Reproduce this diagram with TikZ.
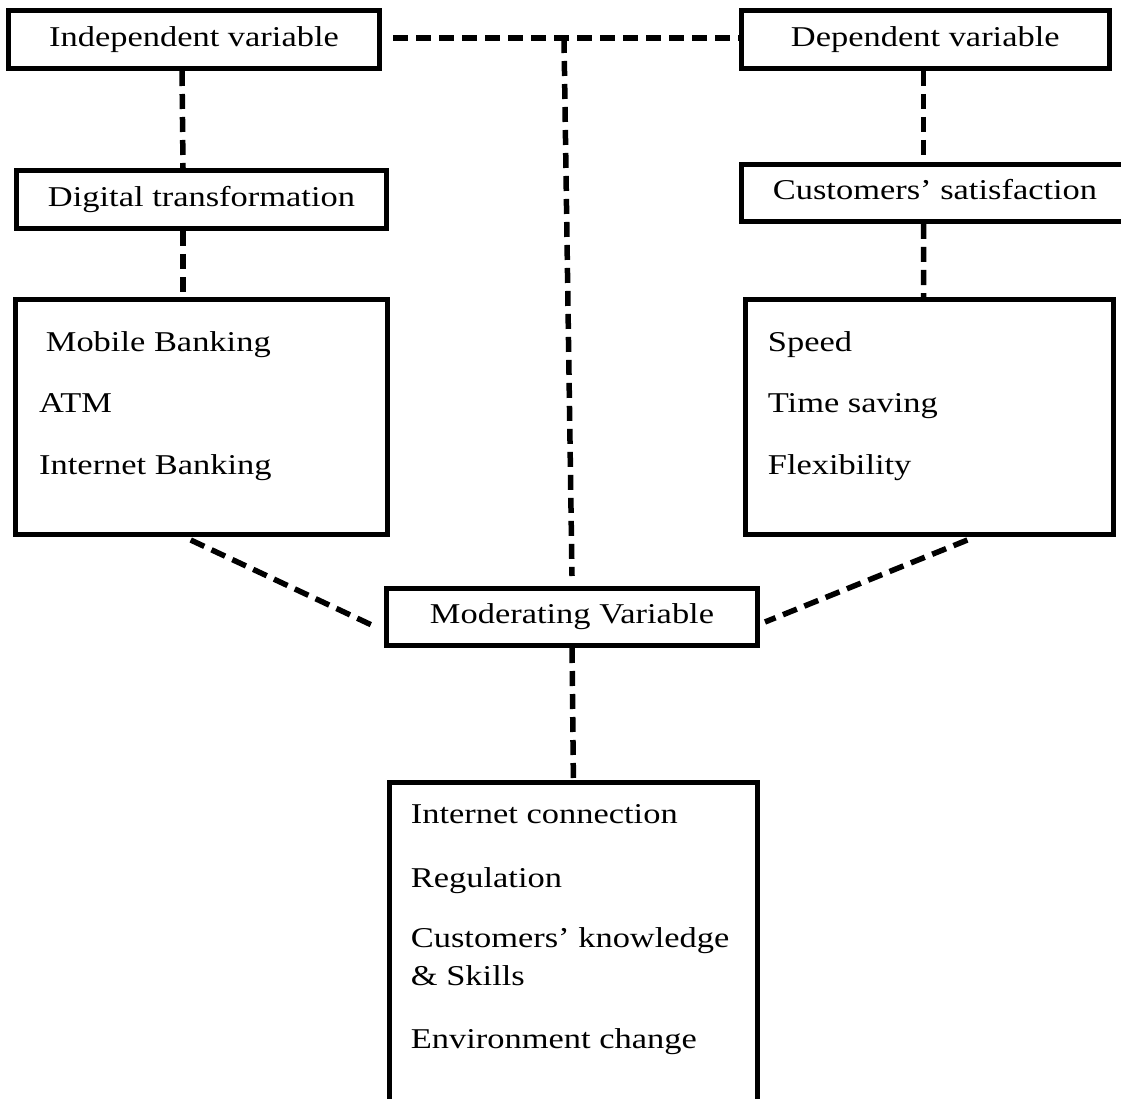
\documentclass[tikz,border=0pt]{standalone}
\usepackage{fontspec}
\setmainfont{Liberation Serif}[FakeStretch=1.2]
\begin{document}
\begin{tikzpicture}[x=1pt,y=-1pt,font=\fontsize{28.7pt}{34pt}\selectfont]
        \tikzstyle{var}=[draw=black,line width=5pt,inner sep=0pt,minimum height=58pt,text height=19.6pt,text depth=6.2pt]
        \tikzstyle{item}=[anchor=base west,inner sep=0pt]
        \tikzstyle{edge}=[draw, line width=5.5pt, dash pattern=on 15pt off 8pt]
        \useasboundingbox (0,0) rectangle (1121,1099);
       \begin{scope}
         \node [var,minimum width=371pt] (indep) at (194,39.5) {Independent variable};
         \node [var,minimum width=368.4pt] (dep) at (925.3,39.5) {Dependent variable};
         \node [var,minimum width=370pt] (digital) at (201.5,199.5) {Digital transformation};
         \node [var,minimum width=388pt,minimum height=57pt] (satisf) at (935,193) {Customers’ satisfaction};
         \node [var,minimum width=371.7pt,minimum height=235pt] (tools) at (201.7,417) {};
         \node [var,minimum width=368.3pt,minimum height=235pt] (feats) at (929.4,417) {};
         \node [var,minimum width=371pt,minimum height=57pt] (moder) at (572,617) {Moderating Variable};
         \node [var,minimum width=368.3pt,minimum height=337pt] (factors) at (573.4,951) {};
         \coordinate (junction) at (564,38);
         % list entries
         \node [item] (mobile) at (45.7,351) {Mobile Banking};
         \node [item] (atm) at (39,412) {ATM};
         \node [item] (ibank) at (39,474) {Internet Banking};
         \node [item] (speed) at (767.7,351) {Speed};
         \node [item] (time) at (767.7,412) {Time saving};
         \node [item] (flex) at (767.7,474) {Flexibility};
         \node [item] (conn) at (410.7,823) {Internet connection};
         \node [item] (regul) at (410.7,887) {Regulation};
         \node [item] (know) at (410.7,947) {Customers’ knowledge};
         \node [item] (skill) at (410.7,985) {\& Skills};
         \node [item] (env) at (410.7,1048) {Environment change};
         % connectors
         \path[edge] ([xshift=-12pt]indep.south) edge ([xshift=-18.5pt]digital.north);
         \path[edge] ([xshift=-18.5pt]digital.south) edge ([xshift=-18.7pt]tools.north);
         \path[edge] ([xshift=-1.7pt]dep.south) edge ([xshift=-11.4pt]satisf.north);
         \path[edge] ([xshift=-11.4pt]satisf.south) edge ([xshift=-5.8pt]feats.north);
         \path[edge] ([xshift=11pt,yshift=1.5pt]indep.east) edge ([yshift=1.5pt]dep.west);
         \path[edge] (junction) edge ([yshift=10pt]moder.north);
         \path[edge] ([xshift=-11pt,yshift=-3pt]tools.south) edge ([xshift=-6pt,yshift=-11pt]moder.west);
         \path[edge] ([xshift=38pt,yshift=-3pt]feats.south) edge ([xshift=5pt,yshift=-5pt]moder.east);
         \path[edge] (moder.south) edge (factors.north);
        \end{scope}
      \end{tikzpicture}
\end{document}
